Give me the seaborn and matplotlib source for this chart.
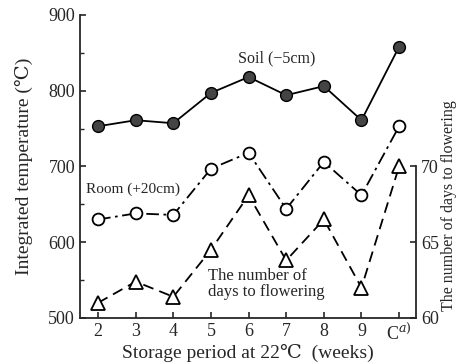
import numpy as np
import pandas as pd
import matplotlib
matplotlib.use("Agg")
import matplotlib.pyplot as plt
import seaborn as sns

weeks = ["2", "3", "4", "5", "6", "7", "8", "9", "C$^{a)}$"]
soil = [753, 761, 757, 797, 818, 794, 806, 761, 858]
room = [630, 638, 636, 697, 718, 644, 706, 662, 753]
days = [61.0, 62.4, 61.4, 64.5, 68.1, 63.8, 66.5, 62.0, 70.0]

sns.set_style("ticks")
plt.rcParams["font.family"] = ["Liberation Serif", "DejaVu Serif", "Noto Sans CJK JP"]
plt.rcParams["mathtext.fontset"] = "dejavuserif"

pos = np.arange(len(weeks))
df = pd.DataFrame({"pos": pos, "soil": soil, "room": room, "days": days})

fig = plt.figure(figsize=(4.61, 3.63), dpi=100)
ax = fig.add_axes([0.1735, 0.124, 0.729, 0.835])

sns.lineplot(data=df, x="pos", y="soil", ax=ax, color="black", lw=1.3,
             marker="o", markersize=8.5, markerfacecolor="#444444",
             markeredgecolor="black", markeredgewidth=1.0)
sns.lineplot(data=df, x="pos", y="room", ax=ax, color="black", lw=1.3,
             linestyle=(0, (7, 2.5, 1.5, 2.5)),
             marker="o", markersize=8.5, markerfacecolor="white",
             markeredgecolor="black", markeredgewidth=1.3)

ax.set_xlim(-0.48, 8.45)
ax.set_ylim(500, 900)
ax.set_yticks([500, 600, 700, 800, 900])
ax.set_yticks([550, 650, 750, 850], minor=True)
ax.set_xticks(pos)
ax.set_xticklabels(weeks, fontsize=13)
ax.tick_params(axis="both", direction="in", length=4, width=1.2, labelsize=13)
ax.tick_params(axis="y", which="minor", direction="in", length=3, width=1.0)
ax.set_ylabel("Integrated temperature (\u2103)", fontsize=14, labelpad=11)
ax.spines["top"].set_visible(False)
ax.spines["right"].set_visible(False)
for s in ["left", "bottom"]:
    ax.spines[s].set_linewidth(1.3)

ax2 = ax.twinx()
sns.lineplot(data=df, x="pos", y="days", ax=ax2, color="black", lw=1.3,
             linestyle=(0, (6, 3.5)),
             marker="^", markersize=9.5, markerfacecolor="white",
             markeredgecolor="black", markeredgewidth=1.3)
ax2.set_ylim(60, 80)
ax2.set_yticks([60, 65, 70])
ax2.spines["right"].set_bounds(60, 70)
ax2.spines["right"].set_linewidth(1.3)
for s in ["top", "left", "bottom"]:
    ax2.spines[s].set_visible(False)
ax2.tick_params(axis="y", direction="in", length=4, width=1.2, labelsize=13)
ax2.set_ylabel("The number of days to flowering", fontsize=11.5)
ax2.yaxis.set_label_coords(1.075, 0.37)
ax.set_xlabel("Storage period at 22\u2103  (weeks)", fontsize=14, labelpad=0)

ax.text(4.76, 843, "Soil (\u22125cm)", fontsize=11.5, ha="center", va="center")
ax.text(-0.33, 670, "Room (+20cm)", fontsize=11, ha="left", va="center")
ax.text(2.93, 545, "The number of\ndays to flowering", fontsize=12,
        ha="left", va="center", linespacing=1.05,
        bbox=dict(facecolor="white", edgecolor="none", pad=0.5))

fig.savefig("out.png", dpi=100)
